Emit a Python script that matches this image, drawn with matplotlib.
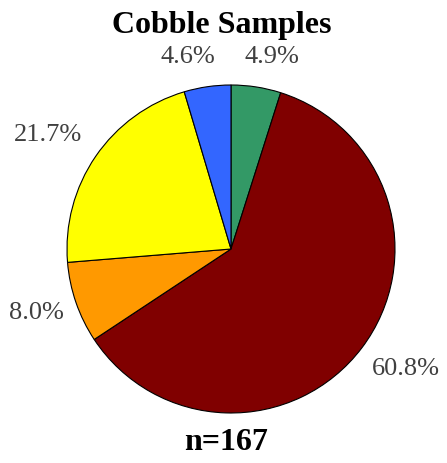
import matplotlib
matplotlib.use("Agg")
import matplotlib.pyplot as plt
import numpy as np

categories = ["Green", "Dark red", "Orange", "Yellow", "Blue"]
values = [4.9, 60.8, 8.0, 21.7, 4.6]
colors = ["#339966", "#800000", "#FF9900", "#FFFF00", "#3366FF"]
title = "Cobble Samples"
footer = "n=167"

# label layout: radial distance plus small nudges (radius units)
label_dist = 1.2
label_nudge = [(0.066, -0.016), (0.11, -0.01), (-0.05, 0.0),
               (-0.126, 0.017), (-0.089, -0.017)]

plt.rcParams['font.family'] = ['Liberation Serif', 'DejaVu Serif']

W, H = 447, 463
fig = plt.figure(figsize=(W / 100, H / 100), dpi=100)
cx, cy, r = 231, 249, 164
ax = fig.add_axes([(cx - r) / W, (H - cy - r) / H, 2 * r / W, 2 * r / H])
wedges, texts, autotexts = ax.pie(
    values, colors=colors, startangle=90, counterclock=False,
    autopct="%.1f%%", pctdistance=label_dist,
    wedgeprops=dict(edgecolor="black", linewidth=0.8),
    textprops=dict(fontsize=19, color="#404040"))
for w, t, (nx, ny) in zip(wedges, autotexts, label_nudge):
    ang = np.deg2rad((w.theta1 + w.theta2) / 2)
    t.set_position((label_dist * np.cos(ang) + nx,
                    label_dist * np.sin(ang) + ny))
ax.set_xlim(-1, 1)
ax.set_ylim(-1, 1)
ax.set_aspect("auto")
ax.axis("off")

fig.text(222 / W, 1 - 25 / H, title, ha="center", va="center",
         fontsize=23, fontweight="bold", color="black")
fig.text(226 / W, 1 - 443 / H, footer, ha="center", va="center",
         fontsize=23, fontweight="bold", color="black")

fig.savefig("out.png", dpi=100)
